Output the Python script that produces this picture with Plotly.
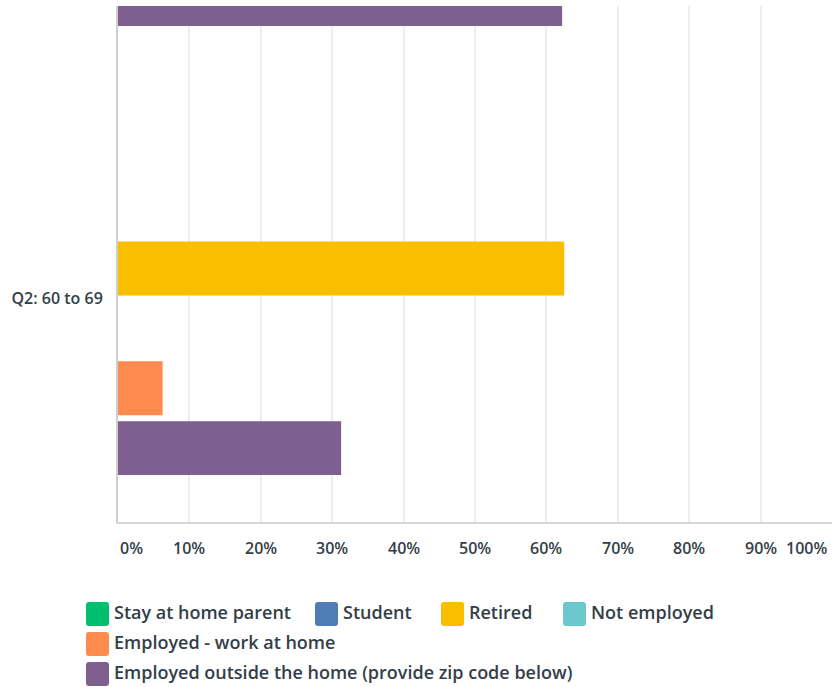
import plotly.graph_objects as go

# Response groups (the upper group is only partly inside the plotting window)
categories = ["Q2: 50 to 59", "Q2: 60 to 69"]

series_names = [
    "Stay at home parent",
    "Student",
    "Retired",
    "Not employed",
    "Employed - work at home",
    "Employed outside the home (provide zip code below)",
]
stay_at_home_parent = [None, 0]
student = [None, 0]
retired = [None, 62.5]
not_employed = [None, 0]
employed_work_at_home = [None, 6.25]
employed_outside_home = [62.2, 31.25]

series_values = [
    stay_at_home_parent,
    student,
    retired,
    not_employed,
    employed_work_at_home,
    employed_outside_home,
]
colors = ["#00BF6F", "#507CB6", "#F9BE00", "#6BC8CD", "#FF8B4F", "#7F5F90"]

tick_values = [0, 10, 20, 30, 40, 50, 60, 70, 80, 90, 100]
tick_labels = [f"{v}%" for v in tick_values]

W, H = 833, 687
ML, MR, MT, MB = 118, 1, 6, 165
TEXT = "#333E48"
FONT = "Open Sans"


def paper_x(px):
    return (px - ML) / (W - ML - MR)


def paper_y(py):
    return (H - MB - py) / (H - MT - MB)


fig = go.Figure()
for name, vals, col in zip(series_names, series_values, colors):
    fig.add_trace(go.Bar(
        y=categories, x=vals, name=name, orientation="h",
        marker=dict(color=col, line=dict(width=0)),
        showlegend=False,
    ))

# Percentage labels under the axis: end labels are kept inside the plot width
annotations = []
for v, lab in zip(tick_values, tick_labels):
    anchor = "left" if v == tick_values[0] else ("right" if v == tick_values[-1] else "center")
    annotations.append(dict(
        x=v, xref="x", y=0, yref="paper", yshift=-26, yanchor="middle",
        xanchor=anchor, xshift=-3 if anchor == "right" else 0,
        text=lab, showarrow=False,
        font=dict(family=FONT, size=16, color=TEXT, weight=600),
    ))

# Legend: rounded swatches with labels
legend_pos = [(86, 602), (315, 602), (441, 602), (563, 602), (86, 632), (86, 662)]
shapes = []
sw, sh, r = 23, 24, 3
for (lx, ly), name, col in zip(legend_pos, series_names, colors):
    x0, x1 = lx, lx + sw
    y0, y1 = ly, ly + sh
    pts = [
        ("M", x0 + r, y0), ("L", x1 - r, y0), ("Q", x1, y0, x1, y0 + r),
        ("L", x1, y1 - r), ("Q", x1, y1, x1 - r, y1), ("L", x0 + r, y1),
        ("Q", x0, y1, x0, y1 - r), ("L", x0, y0 + r), ("Q", x0, y0, x0 + r, y0),
    ]
    path = ""
    for p in pts:
        cmd = p[0]
        coords = p[1:]
        segs = []
        for i in range(0, len(coords), 2):
            segs.append(f"{paper_x(coords[i]):.5f},{paper_y(coords[i + 1]):.5f}")
        path += cmd + " ".join(segs) + " "
    path += "Z"
    shapes.append(dict(type="path", xref="paper", yref="paper", path=path,
                       fillcolor=col, line=dict(width=0), layer="above"))
    annotations.append(dict(
        x=paper_x(x1 + 3), xref="paper", y=paper_y(ly + 10), yref="paper",
        xanchor="left", yanchor="middle", text=name, showarrow=False,
        font=dict(family=FONT, size=18, color=TEXT, weight=600),
    ))

fig.update_layout(
    width=W, height=H,
    margin=dict(l=ML, r=MR, t=MT, b=MB, pad=0),
    paper_bgcolor="white", plot_bgcolor="white",
    barmode="group", bargap=0.2, bargroupgap=0.1,
    font=dict(family=FONT, color=TEXT),
    xaxis=dict(
        range=[0, 100], tickvals=tick_values, showticklabels=False,
        showgrid=True, gridcolor="#EDEDED", gridwidth=2,
        zeroline=False, showline=True, linecolor="#D6D6D6", linewidth=2,
        ticks="", fixedrange=True,
    ),
    yaxis=dict(
        type="category", categoryorder="array", categoryarray=categories,
        range=[1.4978, 0.3486], showgrid=False, zeroline=False,
        showline=True, linecolor="#CFCFCF", linewidth=2, ticks="",
        ticklabelstandoff=10,
        tickfont=dict(family=FONT, size=16, color=TEXT, weight=600),
        fixedrange=True,
    ),
    shapes=shapes,
    annotations=annotations,
    showlegend=False,
)

fig.write_html("out.html")
